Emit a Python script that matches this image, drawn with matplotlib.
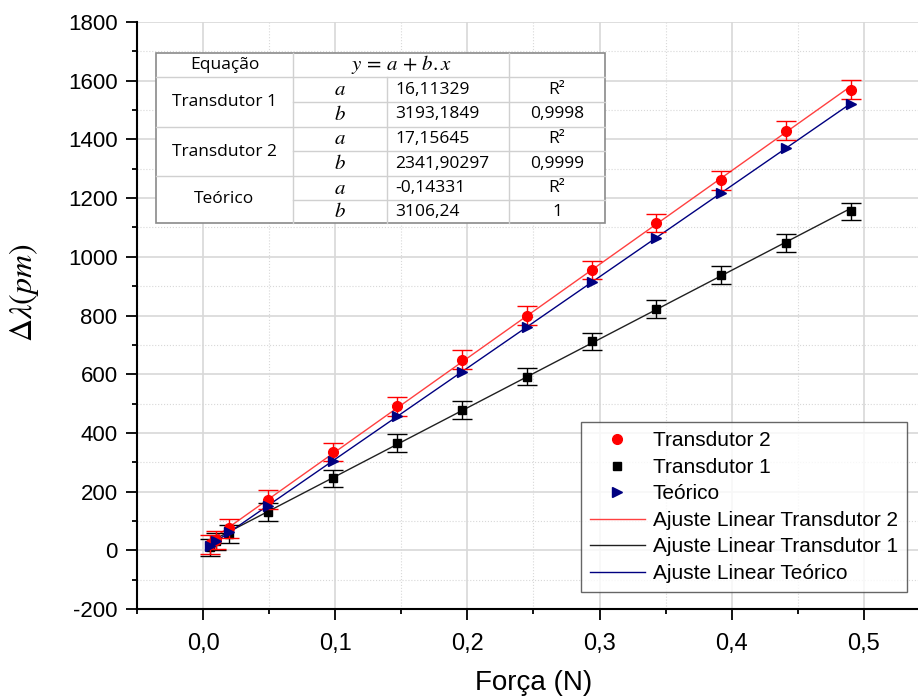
import matplotlib
matplotlib.use("Agg")
import matplotlib.pyplot as plt
import numpy as np
from matplotlib.lines import Line2D
from matplotlib.ticker import MultipleLocator, FuncFormatter
from matplotlib import font_manager

# ---------------- data ----------------
forca = [0.0049, 0.0098, 0.0196, 0.049, 0.098, 0.147, 0.196, 0.245, 0.294, 0.343, 0.392, 0.441, 0.49]
transdutor2 = [20, 35, 75, 172, 335, 490, 650, 800, 955, 1115, 1260, 1430, 1570]
transdutor2_err = [32, 32, 32, 32, 32, 32, 32, 32, 32, 32, 32, 32, 32]
transdutor1 = [10, 30, 55, 130, 245, 365, 478, 592, 712, 822, 938, 1048, 1155]
transdutor1_err = [30, 30, 30, 30, 30, 30, 30, 30, 30, 30, 30, 30, 30]
teorico = [15, 30, 61, 152, 304, 456, 609, 761, 913, 1065, 1218, 1370, 1522]

# fit coefficients (table)
fit_t1_a, fit_t1_b, fit_t1_r2 = "16,11329", "3193,1849", "0,9998"
fit_t2_a, fit_t2_b, fit_t2_r2 = "17,15645", "2341,90297", "0,9999"
fit_te_a, fit_te_b, fit_te_r2 = "-0,14331", "3106,24", "1"
a_red, b_red = 16.11329, 3193.1849
a_blk, b_blk = 17.15645, 2341.90297
a_blu, b_blu = -0.14331, 3106.24

xticks = [0.0, 0.1, 0.2, 0.3, 0.4, 0.5]
yticks = [-200, 0, 200, 400, 600, 800, 1000, 1200, 1400, 1600, 1800]

# ---------------- fonts ----------------
names = {f.name for f in font_manager.fontManager.ttflist}
narrow = 'Liberation Sans Narrow' if 'Liberation Sans Narrow' in names else 'Liberation Sans'
narrow_size = 19 if narrow == 'Liberation Sans Narrow' else 17
xlabel_size = 23 if narrow == 'Liberation Sans Narrow' else 20

# ---------------- figure ----------------
W, H = 918, 700
fig = plt.figure(figsize=(W / 100, H / 100), dpi=100)
plt.rcParams['font.family'] = ['Liberation Sans', 'DejaVu Sans']
plt.rcParams['mathtext.fontset'] = 'stix'

L, R, T, B = 137, 918, 22, 609
ax = fig.add_axes([L / W, 1 - B / H, (R - L) / W, (B - T) / H])

red = '#ff0000'
red_line = '#ff4040'
navy = '#000080'
blk = '#000000'

xfit = np.array([min(forca), max(forca)])
ax.plot(xfit, a_red + b_red * xfit, color=red_line, lw=1.0, zorder=3)
ax.plot(xfit, a_blk + b_blk * xfit, color='#202020', lw=1.0, zorder=3)
ax.plot(xfit, a_blu + b_blu * xfit, color=navy, lw=1.0, zorder=3)

ax.errorbar(forca, transdutor1, yerr=transdutor1_err, fmt='s', color=blk, ms=6,
            capsize=7, elinewidth=1, capthick=1, zorder=4)
ax.errorbar(forca, transdutor2, yerr=transdutor2_err, fmt='o', color=red, ms=7,
            capsize=7, elinewidth=1, capthick=1, zorder=5)
ax.plot(forca, teorico, '>', color=navy, ms=7, zorder=6)

ax.set_xlim(-0.05, 0.541)
ax.set_ylim(-200, 1800)
ax.set_xticks(xticks)
ax.set_yticks(yticks)
ax.xaxis.set_minor_locator(MultipleLocator(0.05))
ax.yaxis.set_minor_locator(MultipleLocator(100))
ax.xaxis.set_major_formatter(FuncFormatter(lambda v, p: f"{v:.1f}".replace('.', ',')))
ax.yaxis.set_major_formatter(FuncFormatter(lambda v, p: f"{int(v)}"))
ax.tick_params(which='major', direction='out', length=8, width=1.3, labelsize=16, pad=6)
ax.tick_params(which='minor', direction='out', length=3.5, width=1.3)
ax.tick_params(axis='x', which='major', pad=9)
for lab in ax.get_xticklabels():
    lab.set_family(narrow)
    lab.set_fontsize(narrow_size)
ax.grid(which='major', color='#d8d8d8', lw=1.2)
ax.grid(which='minor', color='#d8d8d8', lw=0.8, ls=':')
ax.set_axisbelow(True)
for s in ['top', 'right']:
    ax.spines[s].set_visible(False)
for s in ['left', 'bottom']:
    ax.spines[s].set_linewidth(1.5)

fig.text(534 / W, 1 - 683 / H, 'Força (N)', family=narrow, fontsize=xlabel_size,
         ha='center', va='center')
fig.text(24 / W, 1 - 293 / H, r'$\Delta\lambda(pm)$', fontsize=23, rotation=90,
         ha='center', va='center')

# legend
handles = [
    Line2D([], [], ls='none', marker='o', color=red, ms=7),
    Line2D([], [], ls='none', marker='s', color=blk, ms=6),
    Line2D([], [], ls='none', marker='>', color=navy, ms=7),
    Line2D([], [], color=red_line, lw=1),
    Line2D([], [], color='#202020', lw=1),
    Line2D([], [], color=navy, lw=1),
]
labels = ['Transdutor 2', 'Transdutor 1', 'Teórico', 'Ajuste Linear Transdutor 2',
          'Ajuste Linear Transdutor 1', 'Ajuste Linear Teórico']
leg = fig.legend(handles, labels, loc='upper left', bbox_to_anchor=(581 / W, 1 - 422 / H),
                 borderaxespad=0, fontsize=15, frameon=True, fancybox=False,
                 handlelength=2.6, handletextpad=0.4, labelspacing=0.36,
                 borderpad=0.45)
leg.get_frame().set_edgecolor('#404040')
leg.get_frame().set_linewidth(1.0)

# ---------------- table ----------------
def fx(x):
    return x / W

def fy(y):
    return 1 - y / H

cols = [156, 293, 387, 509, 605]
rows = [53, 77, 102, 127, 151, 176, 200, 223]
inner = '#d0d0d0'
outer = '#8a8a8a'

fig.patches.append(plt.Rectangle((fx(cols[0]), fy(rows[-1])), fx(cols[-1] - cols[0]),
                                 (rows[-1] - rows[0]) / H, transform=fig.transFigure,
                                 facecolor='white', edgecolor=outer, lw=1.2, zorder=10))

def hline(y, x0, x1, c=inner):
    fig.add_artist(Line2D([fx(x0), fx(x1)], [fy(y), fy(y)], color=c, lw=1, zorder=11))

def vline(x, y0, y1, c=inner):
    fig.add_artist(Line2D([fx(x), fx(x)], [fy(y0), fy(y1)], color=c, lw=1, zorder=11))

hline(rows[1], cols[0], cols[4])
hline(rows[3], cols[0], cols[4])
hline(rows[5], cols[0], cols[4])
for r in (rows[2], rows[4], rows[6]):
    hline(r, cols[1], cols[4])
vline(cols[1], rows[0], rows[-1])
vline(cols[2], rows[1], rows[-1])
vline(cols[3], rows[0], rows[-1])

tfont = dict(fontsize=12.5, family=['Open Sans', 'DejaVu Sans'], ha='center', va='center', zorder=12)
def cell_text(x, y, s, **kw):
    d = dict(tfont)
    d.update(kw)
    fig.text(fx(x), fy(y), s, **d)

cell_text((cols[0] + cols[1]) / 2, (rows[0] + rows[1]) / 2, 'Equação')
cell_text(401, (rows[0] + rows[1]) / 2, r'$y\,=\,a\,+\,b.x$', fontsize=15)
groups = [('Transdutor 1', fit_t1_a, fit_t1_b, fit_t1_r2),
          ('Transdutor 2', fit_t2_a, fit_t2_b, fit_t2_r2),
          ('Teórico', fit_te_a, fit_te_b, fit_te_r2)]
for i, (name, av, bv, r2) in enumerate(groups):
    ra, rb, rc = rows[1 + 2 * i], rows[2 + 2 * i], rows[3 + 2 * i]
    cell_text((cols[0] + cols[1]) / 2, (ra + rc) / 2, name)
    cell_text((cols[1] + cols[2]) / 2, (ra + rb) / 2, r'$a$', fontsize=15)
    cell_text((cols[1] + cols[2]) / 2, (rb + rc) / 2, r'$b$', fontsize=15)
    cell_text(cols[2] + 8, (ra + rb) / 2, av, ha='left')
    cell_text(cols[2] + 8, (rb + rc) / 2, bv, ha='left')
    cell_text((cols[3] + cols[4]) / 2, (ra + rb) / 2, 'R²')
    cell_text((cols[3] + cols[4]) / 2, (rb + rc) / 2, r2)

fig.savefig('out.png', dpi=100)
